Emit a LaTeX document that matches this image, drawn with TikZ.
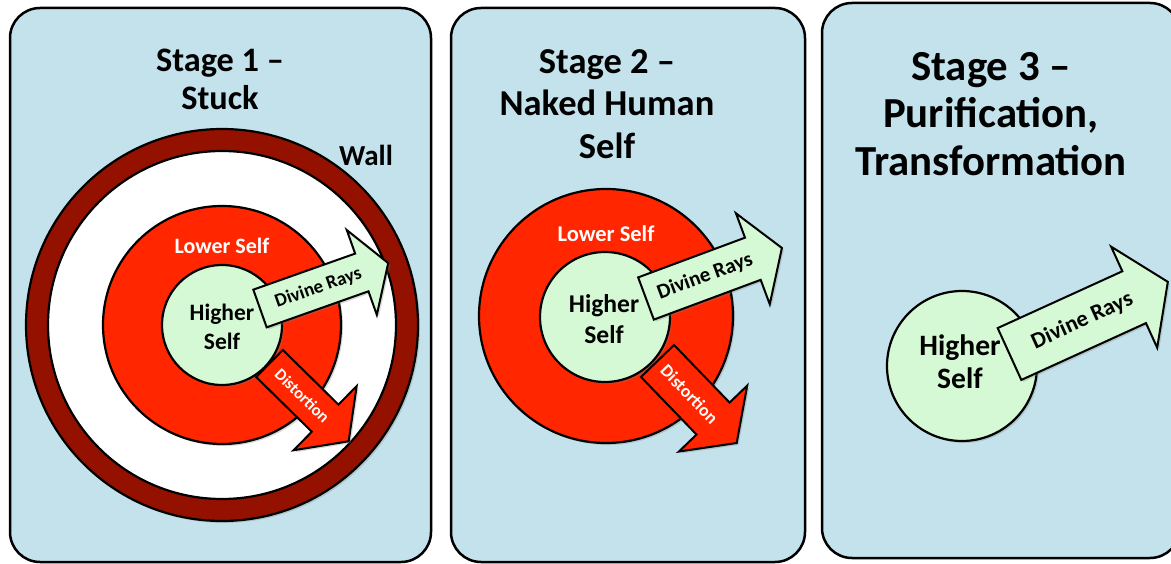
\documentclass[tikz,border=0pt]{standalone}
\usepackage{fontspec}
\setmainfont{Carlito}
\usetikzlibrary{shadows}
\definecolor{panelblue}{RGB}{195,226,235}
\definecolor{hsgreen}{RGB}{213,248,213}
\definecolor{lsred}{RGB}{255,38,0}
\definecolor{wallred}{RGB}{148,17,0}
\newcommand{\fs}[2]{\fontsize{#1}{#2}\selectfont\bfseries}
% #1 style, #2 total length, #3 shaft width, #4 head length, #5 head width
\newcommand{\blockarrow}[5]{%
  \draw[#1] (0,#3/2) -- (#2-#4,#3/2) -- (#2-#4,#5/2) -- (#2,0) -- (#2-#4,-#5/2) -- (#2-#4,-#3/2) -- (0,-#3/2) -- cycle;}
\begin{document}
\begin{tikzpicture}[x=1pt,y=-1pt,
  panel/.style={draw=black, line width=2.5pt, fill=panelblue, rounded corners=30pt},
  shd/.style={drop shadow={opacity=0.3, shadow xshift=2pt, shadow yshift=-2pt}},
  disk/.style={circle, draw=black, line width=2.2pt, inner sep=0pt},
  arr/.style={draw=black, line width=2pt, line join=miter, shd},
  title/.style={align=center, text=black, inner sep=0pt},
  lbl/.style={inner sep=0pt}]
\useasboundingbox (0,0) rectangle (1171,564);
\clip (0,0) rectangle (1171,564);

% panels
\draw[panel] (10,8) rectangle (431,562);
\draw[panel] (451,8) rectangle (805,562);
\draw[panel] (822,3) rectangle (1180,558);

% ---------- Stage 1
\node[title, font=\fs{34.3}{38}] (s1) at (220,79) {Stage 1 –\\Stuck};
\node[disk, shd, fill=wallred, minimum size=392pt] (wall1) at (222,325) {};
\node[disk, fill=white, minimum size=348pt] (in1) at (222,325) {};
\node[disk, shd, fill=lsred, minimum size=238pt] (ls1) at (222,325) {};
\node[disk, shd, fill=hsgreen, minimum size=120pt] (hs1) at (222,325) {};
\node[lbl, font=\fs{29}{32}] (wl1) at (366,155) {Wall};
\node[lbl, font=\fs{22}{25}, text=white] (lsl1) at (222,246) {Lower Self};
\begin{scope}[shift={(260,308.5)}, rotate=19.5]
  \blockarrow{arr, fill=hsgreen}{136}{40}{28}{90}
  \node[lbl, rotate=19.5, font=\fs{19}{22}] (dr1) at (62,0) {Divine Rays};
\end{scope}
\begin{scope}[shift={(269.5,363.5)}, rotate=-44.5]
  \blockarrow{arr, fill=lsred}{111}{38}{33}{90}
  \node[lbl, rotate=-44.5, font=\fs{16.6}{19}, text=white] (di1) at (46,0) {Distortion};
\end{scope}
\node[lbl, align=center, font=\fs{23.5}{29.5}] (hs1t) at (222,327) {Higher\\Self};

% ---------- Stage 2
\node[title, font=\fs{36.5}{42.5}] (s2) at (607,104) {Stage 2 –\\Naked Human\\Self};
\node[disk, shd, fill=lsred, minimum size=254pt] (ls2) at (606,316) {};
\node[disk, shd, fill=hsgreen, minimum size=130pt] (hs2) at (605,317) {};
\node[lbl, font=\fs{22.5}{26}, text=white] (lsl2) at (606,234) {Lower Self};
\begin{scope}[shift={(646,298.5)}, rotate=20.4]
  \blockarrow{arr, fill=hsgreen}{145}{45}{31}{97}
  \node[lbl, rotate=20.4, font=\fs{21}{24}] (dr2) at (63,0) {Divine Rays};
\end{scope}
\begin{scope}[shift={(657.5,361)}, rotate=-46]
  \blockarrow{arr, fill=lsred}{114}{46}{34}{95}
  \node[lbl, rotate=-46, font=\fs{17.8}{21}, text=white] (di2) at (46,0) {Distortion};
\end{scope}
\node[lbl, align=center, font=\fs{25.6}{31}] (hs2t) at (604,319) {Higher\\Self};

% ---------- Stage 3
\node[title, font=\fs{42.8}{47.5}] (s3) at (991,114) {Stage 3 –\\Purification,\\Transformation};
\node[disk, shd, fill=hsgreen, minimum size=150pt] (hs3) at (962,366) {};
\begin{scope}[shift={(1009.5,354)}, rotate=24.5]
  \blockarrow{arr, fill=hsgreen}{174}{57}{37}{111}
  \node[lbl, rotate=24.5, font=\fs{22.8}{26}] (dr3) at (80,0) {Divine Rays};
\end{scope}
\node[lbl, align=center, font=\fs{29.6}{33}] (hs3t) at (960,362) {Higher\\Self};
\end{tikzpicture}
\end{document}
